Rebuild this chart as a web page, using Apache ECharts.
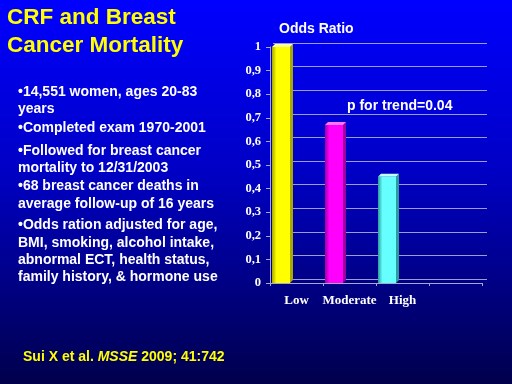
<!DOCTYPE html>
<html>
<head>
<meta charset="utf-8">
<script src="https://cdn.jsdelivr.net/npm/echarts@6/dist/echarts.min.js"></script>
<style>html,body{margin:0;padding:0;}#c{width:512px;height:384px;}</style>
</head>
<body>
<div id="c"></div>
<script>
// ---- data ----
const categories = ['Low', 'Moderate', 'High', ''];
const oddsRatio = [1.0, 0.67, 0.45];
const barColors = [
  ['#ffff00', '#a8a800', '#ffff99'],
  ['#ff00ff', '#a000a0', '#ff77ff'],
  ['#66ffff', '#2c9c9c', '#bbffff']
];
const titleLines = ['CRF and Breast', 'Cancer Mortality'];
const bulletLines = [
  ['•14,551 women, ages 20-83', 92],
  ['years', 109],
  ['•Completed exam 1970-2001', 128],
  ['•Followed for breast cancer', 151],
  ['mortality to 12/31/2003', 168],
  ['•68 breast cancer deaths in', 186],
  ['average follow-up of 16 years', 204],
  ['•Odds ration adjusted for age,', 225],
  ['BMI, smoking, alcohol intake,', 243],
  ['abnormal ECT, health status,', 260],
  ['family history, & hormone use', 277]
];

const chart = echarts.init(document.getElementById('c'), null, {renderer: 'canvas'});
const sans = '"Liberation Sans", Arial, sans-serif';
const serif = '"Liberation Serif", "Times New Roman", serif';

const graphics = [
  {
    type: 'rect', z: -10, silent: true,
    shape: {x: 0, y: 0, width: 512, height: 384},
    style: {
      fill: {
        type: 'linear', x: 0, y: 0, x2: 0, y2: 1,
        colorStops: [
          {offset: 0, color: '#0000ff'},
          {offset: 0.45, color: '#0000c4'},
          {offset: 1, color: '#00004c'}
        ]
      }
    }
  }
];
titleLines.forEach((t, i) => {
  graphics.push({
    type: 'text', z: 10,
    x: 7, y: 18 + i * 28,
    style: {text: t, fill: '#ffff00', font: 'bold 22.5px ' + sans, align: 'left', verticalAlign: 'middle'}
  });
});
bulletLines.forEach(([t, y]) => {
  graphics.push({
    type: 'text', z: 10,
    x: 18, y: y,
    style: {text: t, fill: '#ffffff', font: 'bold 14px ' + sans, align: 'left', verticalAlign: 'middle'}
  });
});
graphics.push({
  type: 'text', z: 10, x: 23, y: 357,
  style: {
    text: '{n|Sui X et al. }{i|MSSE}{n| 2009; 41:742}',
    align: 'left', verticalAlign: 'middle',
    rich: {
      n: {fill: '#ffff00', font: 'bold 14px ' + sans},
      i: {fill: '#ffff00', font: 'italic bold 14px ' + sans}
    }
  }
});
graphics.push({
  type: 'text', z: 10, x: 279, y: 29,
  style: {text: 'Odds Ratio', fill: '#ffffff', font: 'bold 14px ' + sans, align: 'left', verticalAlign: 'middle'}
});
graphics.push({
  type: 'text', z: 10, x: 347, y: 106,
  style: {text: 'p for trend=0.04', fill: '#ffffff', font: 'bold 14px ' + sans, align: 'left', verticalAlign: 'middle'}
});

const option = {
  animation: false,
  backgroundColor: '#0000a0',
  graphic: graphics,
  grid: [
    {left: 270, right: 30, top: 47, bottom: 101},
    {left: 273, right: 25, top: 43, bottom: 105}
  ],
  xAxis: [
    {
      type: 'category', gridIndex: 0, data: categories,
      axisLine: {show: true, lineStyle: {color: '#a8a8c8', width: 1}},
      axisTick: {show: true, length: 3, interval: 0, lineStyle: {color: '#a8a8c8'}},
      axisLabel: {color: '#ffffff', fontFamily: serif, fontWeight: 'bold', fontSize: 13, margin: 11, interval: 0},
      splitLine: {show: false}
    },
    {
      type: 'value', gridIndex: 1, show: false, min: 0, max: 1
    }
  ],
  yAxis: [
    {
      type: 'value', gridIndex: 0, min: 0, max: 1, interval: 0.1,
      axisLine: {show: true, lineStyle: {color: '#a8a8c8', width: 1}},
      axisTick: {show: true, length: 4, lineStyle: {color: '#a8a8c8'}},
      axisLabel: {
        color: '#ffffff', fontFamily: serif, fontWeight: 'bold', fontSize: 12.5, margin: 9,
        formatter: v => (v === 0 ? '0' : String(+v.toFixed(1)).replace('.', ','))
      },
      splitLine: {show: false}
    },
    {
      type: 'value', gridIndex: 1, min: 0, max: 1, interval: 0.1,
      axisLine: {show: false}, axisTick: {show: false}, axisLabel: {show: false},
      splitLine: {show: true, lineStyle: {color: '#9c9cdc', width: 1}}
    }
  ],
  series: [
    {
      type: 'custom',
      xAxisIndex: 0, yAxisIndex: 0,
      z: 5,
      data: oddsRatio.map((v, i) => [i, v]),
      renderItem: function (params, api) {
        const idx = api.value(0);
        const v = api.value(1);
        const topPt = api.coord([idx, v]);
        const basePt = api.coord([idx, 0]);
        const slot = api.size([1, 0])[0];
        const w = 18, d = 3;
        const x0 = topPt[0] - slot / 2 + 2;
        const y0 = topPt[1], y1 = basePt[1];
        const c = barColors[idx];
        return {
          type: 'group',
          children: [
            {
              type: 'polygon',
              shape: {points: [[x0 + w, y0], [x0 + w + d, y0 - d], [x0 + w + d, y1 - d], [x0 + w, y1]]},
              style: {fill: c[1]}
            },
            {
              type: 'polygon',
              shape: {points: [[x0, y0], [x0 + d, y0 - d], [x0 + w + d, y0 - d], [x0 + w, y0]]},
              style: {fill: c[2]}
            },
            {
              type: 'rect',
              shape: {x: x0, y: y0, width: w, height: y1 - y0},
              style: {
                fill: {
                  type: 'linear', x: 0, y: 0, x2: 1, y2: 0,
                  colorStops: [{offset: 0, color: c[1]}, {offset: 0.25, color: c[0]}, {offset: 1, color: c[0]}]
                }
              }
            }
          ]
        };
      }
    }
  ]
};
chart.setOption(option);
</script>
</body>
</html>
